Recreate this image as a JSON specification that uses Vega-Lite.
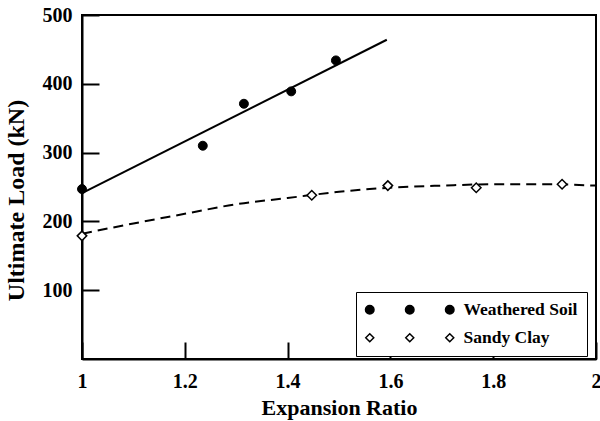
{
  "$schema": "https://vega.github.io/schema/vega-lite/v6.json",
  "width": 514,
  "height": 344,
  "autosize": {"type": "none"},
  "padding": {"left": 82, "top": 15, "right": 4, "bottom": 62},
  "background": "white",
  "config": {
    "view": {"stroke": "black", "strokeWidth": 2},
    "font": "Liberation Serif",
    "axis": {
      "domainColor": "black",
      "domainWidth": 2,
      "tickColor": "black",
      "tickWidth": 2,
      "grid": false,
      "labelFont": "Liberation Serif",
      "labelFontWeight": "bold",
      "labelColor": "black",
      "labelFontSize": 20,
      "titleFont": "Liberation Serif",
      "titleFontWeight": "bold",
      "titleColor": "black"
    },
    "legend": {
      "orient": "none",
      "legendX": 274,
      "legendY": 277,
      "strokeColor": "black",
      "fillColor": "white",
      "padding": 9,
      "symbolSize": 100,
      "symbolStrokeColor": "black",
      "symbolStrokeWidth": 1.5,
      "labelFont": "Liberation Serif",
      "labelFontWeight": "bold",
      "labelFontSize": 17.5,
      "labelColor": "black",
      "labelOffset": 81,
      "rowPadding": 9
    }
  },
  "datasets": {
    "points": [
      {"ratio": 1.0, "load": 247, "series": "Weathered Soil"},
      {"ratio": 1.235, "load": 310, "series": "Weathered Soil"},
      {"ratio": 1.315, "load": 371, "series": "Weathered Soil"},
      {"ratio": 1.407, "load": 389, "series": "Weathered Soil"},
      {"ratio": 1.494, "load": 434, "series": "Weathered Soil"},
      {"ratio": 1.0, "load": 179, "series": "Sandy Clay"},
      {"ratio": 1.447, "load": 238, "series": "Sandy Clay"},
      {"ratio": 1.595, "load": 252, "series": "Sandy Clay"},
      {"ratio": 1.767, "load": 249, "series": "Sandy Clay"},
      {"ratio": 1.934, "load": 254, "series": "Sandy Clay"}
    ],
    "soilFit": [
      {"ratio": 1.0, "load": 241},
      {"ratio": 1.593, "load": 464}
    ],
    "clayFit": [
      {"ratio": 1.0, "load": 182},
      {"ratio": 1.1, "load": 197},
      {"ratio": 1.2, "load": 211},
      {"ratio": 1.3, "load": 225},
      {"ratio": 1.4, "load": 234},
      {"ratio": 1.5, "load": 243},
      {"ratio": 1.6, "load": 249},
      {"ratio": 1.7, "load": 252},
      {"ratio": 1.8, "load": 254},
      {"ratio": 1.9, "load": 254},
      {"ratio": 2.0, "load": 252}
    ]
  },
  "encoding": {
    "x": {
      "field": "ratio",
      "type": "quantitative",
      "scale": {"domain": [1, 2], "nice": false},
      "axis": {
        "values": [1, 1.2, 1.4, 1.6, 1.8, 2],
        "format": "~g",
        "tickSize": -17,
        "labelPadding": 29,
        "labelFlush": false,
        "title": "Expansion Ratio",
        "titleFontSize": 22,
        "titlePadding": 6
      }
    },
    "y": {
      "field": "load",
      "type": "quantitative",
      "scale": {"domain": [0, 500], "nice": false},
      "axis": {
        "values": [100, 200, 300, 400, 500],
        "tickSize": -17,
        "labelPadding": 27,
        "title": "Ultimate Load (kN)",
        "titleFontSize": 24,
        "titlePadding": 14,
        "titleY": 185
      }
    }
  },
  "layer": [
    {
      "data": {"name": "soilFit"},
      "mark": {"type": "line", "color": "black", "strokeWidth": 2}
    },
    {
      "data": {"name": "clayFit"},
      "mark": {"type": "line", "color": "black", "strokeWidth": 2, "strokeDash": [10, 6], "interpolate": "monotone"}
    },
    {
      "data": {"name": "points"},
      "transform": [{"filter": "datum.series === 'Weathered Soil'"}],
      "mark": {"type": "point", "shape": "circle", "filled": true, "fill": "black", "stroke": "black", "strokeWidth": 1, "opacity": 1, "size": 80}
    },
    {
      "data": {"name": "points"},
      "transform": [{"filter": "datum.series === 'Sandy Clay'"}],
      "mark": {"type": "point", "shape": "diamond", "filled": true, "fill": "white", "stroke": "black", "strokeWidth": 1.5, "opacity": 1, "size": 90}
    },
    {
      "data": {"name": "points"},
      "mark": {"type": "point", "filled": true, "strokeWidth": 1.5, "opacity": 1, "size": 0},
      "encoding": {
        "fill": {
          "field": "series",
          "type": "nominal",
          "scale": {"domain": ["Weathered Soil", "Sandy Clay"], "range": ["black", "white"]},
          "legend": {"title": null, "labelFontSize": 17.5, "labelOffset": 81}
        },
        "stroke": {
          "field": "series",
          "type": "nominal",
          "scale": {"domain": ["Weathered Soil", "Sandy Clay"], "range": ["black", "black"]},
          "legend": {"title": null, "labelFontSize": 17.5, "labelOffset": 81}
        },
        "shape": {
          "field": "series",
          "type": "nominal",
          "scale": {
            "domain": ["Weathered Soil", "Sandy Clay"],
            "range": [
              "M-1.65,0A0.85,0.85,0,1,0,0.05,0A0.85,0.85,0,1,0,-1.65,0Z M6.35,0A0.85,0.85,0,1,0,8.05,0A0.85,0.85,0,1,0,6.35,0Z M14.35,0A0.85,0.85,0,1,0,16.05,0A0.85,0.85,0,1,0,14.35,0Z",
              "M-1.6,0L-0.8,-0.8L0,0L-0.8,0.8Z M6.4,0L7.2,-0.8L8,0L7.2,0.8Z M14.4,0L15.2,-0.8L16,0L15.2,0.8Z"
            ]
          },
          "legend": {"title": null, "labelFontSize": 17.5, "labelOffset": 81}
        }
      }
    }
  ]
}
